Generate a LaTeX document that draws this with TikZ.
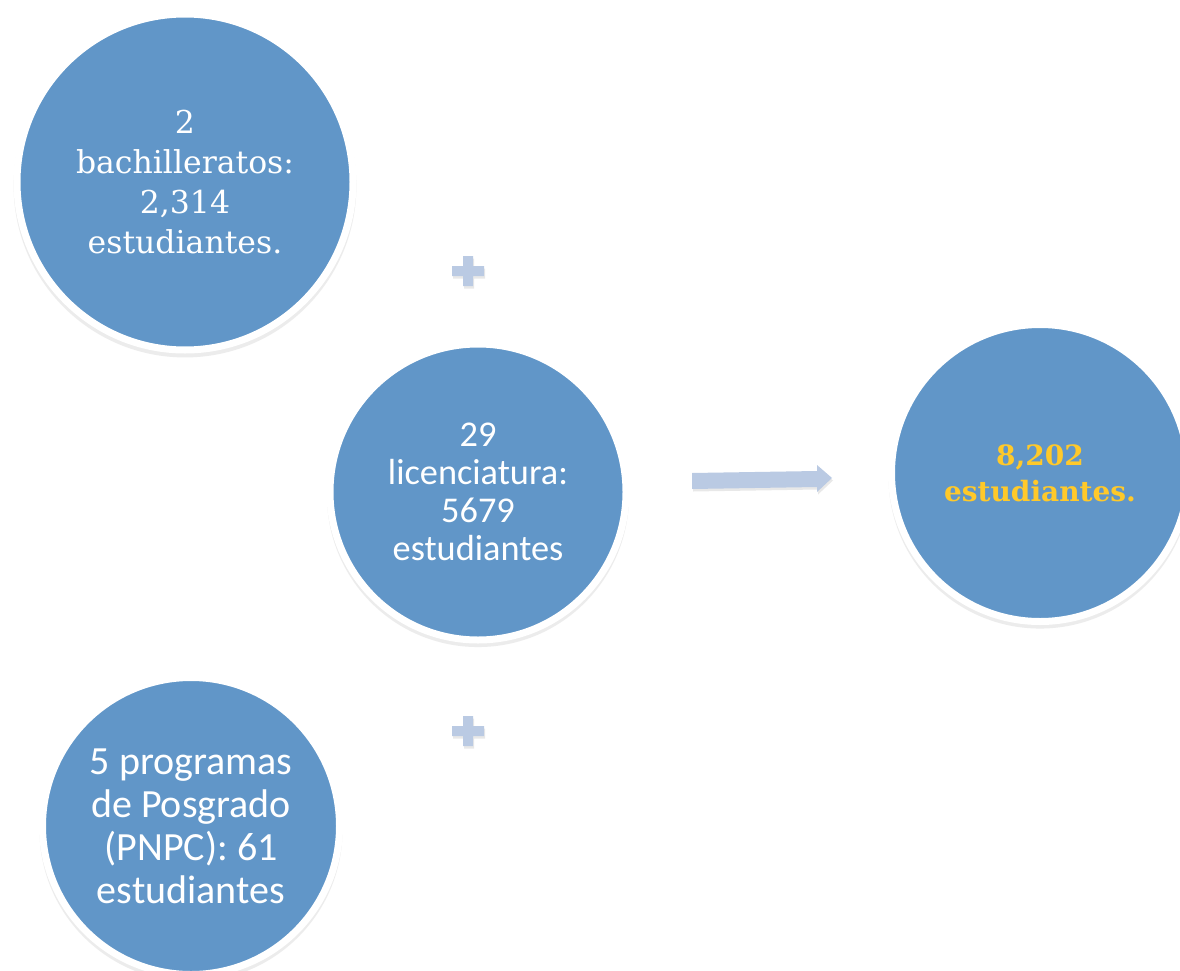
\documentclass[tikz,border=0pt]{standalone}
\usepackage{fontspec}
\setmainfont{DejaVu Serif}
\newfontfamily\calib{Carlito}
\usetikzlibrary{shadows}
\definecolor{cblue}{RGB}{97,150,200}
\definecolor{lblue}{RGB}{186,202,227}
\definecolor{gold}{RGB}{255,201,42}
\begin{document}
\begin{tikzpicture}[x=1pt,y=-1pt,
  circ/.style={circle, fill=cblue, draw=white, line width=7pt, inner sep=0pt,
    text=white, align=center,
    drop shadow={shadow scale=1.02, shadow xshift=0pt, shadow yshift=-4pt, opacity=.15}},
  deco/.style={fill=lblue, drop shadow={shadow xshift=1pt, shadow yshift=-2.5pt, opacity=.18}},
  ]
\useasboundingbox (0,0) rectangle (1180,971);
\clip (0,0) rectangle (1180,971);
\fill[white] (0,0) rectangle (1180,971);

\node[circ, minimum size=336pt, font=\fontsize{31.5}{40}\selectfont] (bach) at (185,182)
  {2\\bachilleratos:\\2,314\\estudiantes.};
\node[circ, minimum size=296pt, font=\calib\fontsize{36.3}{38}\selectfont] (lic) at (478,492)
  {29\\licenciatura:\\5679\\estudiantes};
\node[circ, minimum size=297pt, font=\bfseries\fontsize{28}{36}\selectfont, text=gold] (tot) at (1040,473)
  {8,202\\estudiantes.};
\node[circ, minimum size=297pt, font=\calib\fontsize{40}{43}\selectfont] (pos) at (191,826)
  {5 programas\\de Posgrado\\(PNPC): 61\\estudiantes};

% plus signs
\coordinate (p1) at (468,271);
\coordinate (p2) at (468,731);
\foreach \p in {p1,p2}{
  \fill[deco] (\p) ++(-16,-5) -- ++(11,0) -- ++(0,-10) -- ++(10,0) -- ++(0,10) -- ++(11,0)
    -- ++(0,10) -- ++(-11,0) -- ++(0,10) -- ++(-10,0) -- ++(0,-10) -- ++(-11,0) -- cycle;
}

% block arrow
\coordinate (aS) at (692,481);
\coordinate (aE) at (832,478);
\fill[deco] (692,473) -- (817,471) -- (817,465) -- (aE) -- (817,492) -- (817,487) -- (692,489) -- cycle;
\end{tikzpicture}
\end{document}
